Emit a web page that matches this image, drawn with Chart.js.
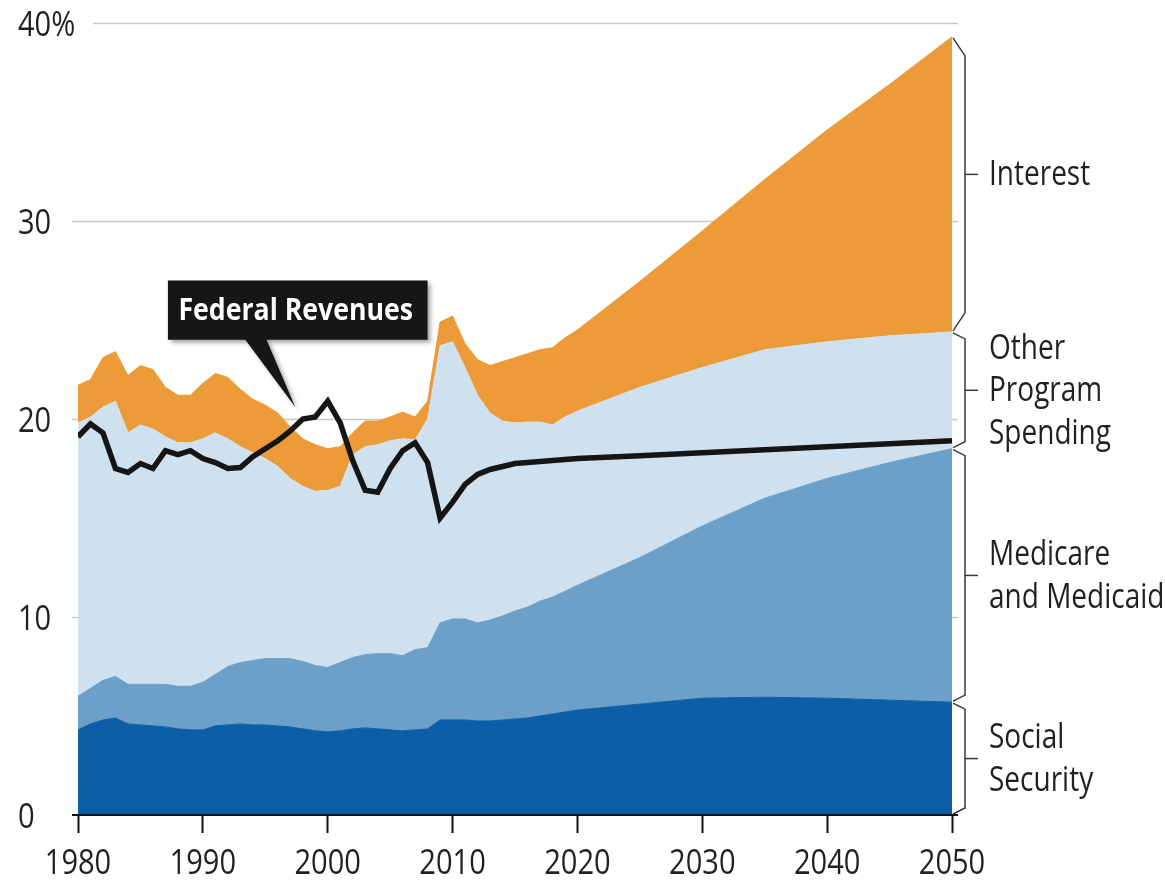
<!DOCTYPE html>
<html>
<head>
<meta charset="utf-8">
<script src="https://cdn.jsdelivr.net/npm/chart.js@4/dist/chart.umd.min.js"></script>
<style>
  html, body { margin: 0; padding: 0; background: #ffffff; }
  #wrap { width: 1165px; height: 883px; position: relative; }
</style>
</head>
<body>
<div id="wrap"><canvas id="c" width="1165" height="883"></canvas></div>
<script>
// ---- Data (percent of GDP) ----
const years = [1980,1981,1982,1983,1984,1985,1986,1987,1988,1989,
               1990,1991,1992,1993,1994,1995,1996,1997,1998,1999,
               2000,2001,2002,2003,2004,2005,2006,2007,2008,2009,
               2010,2011,2012,2013,2014,2015,2016,2017,2018,2019,
               2020,2025,2030,2035,2040,2045,2050];

const socialSecurity = [4.3,4.6,4.8,4.9,4.6,4.55,4.5,4.45,4.35,4.3,
                        4.3,4.5,4.55,4.6,4.55,4.55,4.5,4.45,4.35,4.25,
                        4.2,4.25,4.35,4.4,4.35,4.3,4.25,4.3,4.35,4.8,
                        4.8,4.8,4.75,4.75,4.8,4.85,4.9,5.0,5.1,5.2,
                        5.3,5.6,5.9,5.95,5.9,5.8,5.7];

const medicareMedicaid = [1.7,1.8,2.0,2.1,2.0,2.05,2.1,2.15,2.15,2.2,
                          2.4,2.6,2.95,3.1,3.25,3.35,3.4,3.45,3.4,3.3,
                          3.25,3.45,3.6,3.7,3.8,3.85,3.8,4.05,4.1,4.9,
                          5.1,5.1,4.95,5.1,5.25,5.45,5.6,5.8,5.9,6.1,
                          6.3,7.4,8.7,10.05,11.1,12.0,12.8];

const otherProgram = [13.8,13.7,13.8,13.9,12.7,13.1,12.9,12.5,12.3,12.3,
                      12.3,12.2,11.5,10.9,10.5,10.1,9.7,9.1,8.85,8.8,
                      8.95,8.9,10.25,10.5,10.55,10.75,10.95,10.6,11.55,14.0,
                      14.0,12.7,11.5,10.45,9.85,9.5,9.35,9.05,8.7,8.8,
                      8.8,8.6,8.0,7.5,6.9,6.4,5.9];

const interest = [1.9,1.9,2.5,2.5,2.9,3.0,3.0,2.5,2.4,2.4,
                  2.8,3.0,3.1,2.9,2.7,2.7,2.7,2.6,2.4,2.35,
                  2.1,2.0,1.1,1.3,1.2,1.2,1.35,1.15,0.9,1.2,
                  1.3,1.2,1.8,2.4,3.0,3.3,3.45,3.65,3.9,4.0,
                  4.1,5.35,6.9,8.6,10.7,12.7,14.9];

const revenues = [19.1,19.75,19.3,17.5,17.3,17.75,17.5,18.4,18.2,18.4,
                  18.0,17.8,17.5,17.55,18.1,18.5,18.9,19.4,20.0,20.1,
                  20.9,19.8,17.9,16.4,16.3,17.5,18.4,18.8,17.8,15.0,
                  15.8,16.7,17.2,17.45,17.6,17.75,17.8,17.85,17.9,17.95,
                  18.0,18.15,18.3,18.45,18.6,18.75,18.9];

const yTicks = [0, 10, 20, 30, 40];
const yTickLabels = ["0", "10", "20", "30", "40%"];
const xTicks = [1980, 1990, 2000, 2010, 2020, 2030, 2040, 2050];
const xTickLabels = ["1980", "1990", "2000", "2010", "2020", "2030", "2040", "2050"];

const seriesLabels = [
  ["Interest"],
  ["Other", "Program", "Spending"],
  ["Medicare", "and Medicaid"],
  ["Social", "Security"]
];

// callout anchor (data coordinates)
const calloutText = "Federal Revenues";
const calloutBox = { x0: 1987.2, x1: 2008.0, yTop: 27.0, yBottom: 24.0 };
const calloutPointer = { baseX0: 1993.4, baseX1: 1995.1, tipX: 1997.4, tipY: 20.6 };

// ---- Styles ----
const FONT = '"Open Sans", "Liberation Sans", sans-serif';
const SX = 0.83;        // horizontal condensing of text
const colors = {
  ss: '#0c5fa6',
  mm: '#6ca0c9',
  other: '#cfe0ef',
  interest: '#ec9b38',
  revenue: '#151515',
  text: '#231f20',
  grid: '#c9c9c9'
};

function pts(vals) { return years.map((y, i) => ({ x: y, y: vals[i] })); }

function drawText(ctx, s, x, y, align, font, sx, color) {
  ctx.save();
  ctx.font = font;
  ctx.fillStyle = color;
  ctx.textAlign = align;
  ctx.textBaseline = 'middle';
  ctx.translate(x, y);
  ctx.scale(sx, 1);
  ctx.fillText(s, 0, 0);
  ctx.restore();
}

const decor = {
  id: 'decor',
  beforeDatasetsDraw(chart) {
    const { ctx, chartArea: a, scales: { y } } = chart;
    ctx.save();
    ctx.strokeStyle = colors.grid;
    ctx.lineWidth = 1.5;
    yTicks.forEach(v => {
      if (v === 0) return;
      const py = Math.round(y.getPixelForValue(v)) + 0.5;
      const x0 = v === 40 ? a.left + 15 : a.left - 6;
      ctx.beginPath();
      ctx.moveTo(x0, py);
      ctx.lineTo(a.right + 6, py);
      ctx.stroke();
    });
    ctx.restore();
  },
  afterDatasetsDraw(chart) {
    const { ctx, chartArea: a, scales: { x, y } } = chart;
    ctx.save();
    // baseline
    ctx.strokeStyle = '#111';
    ctx.lineWidth = 2;
    const by = y.getPixelForValue(0);
    ctx.beginPath();
    ctx.moveTo(a.left - 6, by);
    ctx.lineTo(a.right + 6, by);
    ctx.stroke();

    // tick labels
    const tickFont = '35px ' + FONT;
    yTicks.forEach((v, i) => {
      drawText(ctx, yTickLabels[i], 18, y.getPixelForValue(v) + 3, 'left', tickFont, SX, colors.text);
    });
    xTicks.forEach((v, i) => {
      drawText(ctx, xTickLabels[i], x.getPixelForValue(v), by + 49, 'center', tickFont, SX, colors.text);
    });

    // brackets on right, from last points of stacked layers
    const last = years.length - 1;
    const topOf = i => chart.getDatasetMeta(i).data[last].y;
    const bounds = [
      [topOf(4), topOf(3)],
      [topOf(3), topOf(2)],
      [topOf(2), topOf(1)],
      [topOf(1), by]
    ];
    const diag = [18, 6, 6, 6];
    const xr = a.right + 1, xv = a.right + 13, xt = a.right + 26, xl = a.right + 37;
    ctx.strokeStyle = '#3a3a3a';
    ctx.lineWidth = 1.5;
    bounds.forEach((b, i) => {
      const [t, bt] = b;
      const d = diag[i];
      ctx.beginPath();
      ctx.moveTo(xr, t + 1);
      ctx.lineTo(xv, t + 1 + d);
      ctx.lineTo(xv, bt - 1 - d);
      ctx.lineTo(xr, bt - 1);
      ctx.stroke();
      const mid = (t + bt) / 2 + (i === 0 ? -10 : 0);
      ctx.beginPath();
      ctx.moveTo(xv, mid);
      ctx.lineTo(xt, mid);
      ctx.stroke();
      const lines = seriesLabels[i];
      const lh = 42.5;
      const start = mid - (lines.length - 1) * lh / 2;
      lines.forEach((s, k) => drawText(ctx, s, xl, start + k * lh + 1, 'left', tickFont, 0.8, colors.text));
    });

    // callout
    const bx0 = x.getPixelForValue(calloutBox.x0), bx1 = x.getPixelForValue(calloutBox.x1);
    const byT = y.getPixelForValue(calloutBox.yTop), byB = y.getPixelForValue(calloutBox.yBottom);
    const px0 = x.getPixelForValue(calloutPointer.baseX0), px1 = x.getPixelForValue(calloutPointer.baseX1);
    const tx = x.getPixelForValue(calloutPointer.tipX), ty = y.getPixelForValue(calloutPointer.tipY);
    ctx.save();
    ctx.shadowColor = 'rgba(0,0,0,0.35)';
    ctx.shadowBlur = 4;
    ctx.shadowOffsetX = 3;
    ctx.shadowOffsetY = 3;
    ctx.fillStyle = '#161616';
    ctx.beginPath();
    ctx.moveTo(bx0, byT);
    ctx.lineTo(bx1, byT);
    ctx.lineTo(bx1, byB);
    ctx.lineTo(px1, byB);
    ctx.lineTo(tx, ty);
    ctx.lineTo(px0, byB);
    ctx.lineTo(bx0, byB);
    ctx.closePath();
    ctx.fill();
    ctx.restore();
    drawText(ctx, calloutText, (bx0 + bx1) / 2 - 2, (byT + byB) / 2 + 1, 'center', 'bold 31px ' + FONT, 0.86, '#ffffff');
    ctx.restore();
  }
};

const areaDs = (label, vals, color, fill) => ({
  label, data: pts(vals), backgroundColor: color, borderColor: color,
  borderWidth: 1, pointRadius: 0, fill, stack: 'spend', tension: 0
});

new Chart(document.getElementById('c'), {
  type: 'line',
  data: {
    datasets: [
      { label: 'Federal Revenues', data: pts(revenues), borderColor: colors.revenue,
        borderWidth: 5.5, pointRadius: 0, fill: false, stack: 'rev', tension: 0,
        borderJoinStyle: 'miter', borderCapStyle: 'butt' },
      areaDs('Social Security', socialSecurity, colors.ss, 'origin'),
      areaDs('Medicare and Medicaid', medicareMedicaid, colors.mm, '-1'),
      areaDs('Other Program Spending', otherProgram, colors.other, '-1'),
      areaDs('Interest', interest, colors.interest, '-1')
    ]
  },
  options: {
    responsive: false,
    animation: false,
    devicePixelRatio: 1,
    layout: { padding: { left: 18, top: 23, right: 213, bottom: 0 } },
    plugins: { legend: { display: false }, tooltip: { enabled: false } },
    scales: {
      x: {
        type: 'linear', min: 1980, max: 2050,
        afterFit(axis) { axis.height = 68; },
        afterBuildTicks(axis) { axis.ticks = xTicks.map(v => ({ value: v })); },
        border: { display: false },
        grid: { drawOnChartArea: false, drawTicks: true, tickLength: 18, tickColor: '#111', tickWidth: 2 },
        ticks: { display: false }
      },
      y: {
        stacked: true, min: 0, max: 40,
        afterFit(axis) { axis.width = 60; },
        afterBuildTicks(axis) { axis.ticks = yTicks.map(v => ({ value: v })); },
        border: { display: false },
        grid: { display: false },
        ticks: { display: false }
      }
    }
  },
  plugins: [decor]
});
</script>
</body>
</html>
